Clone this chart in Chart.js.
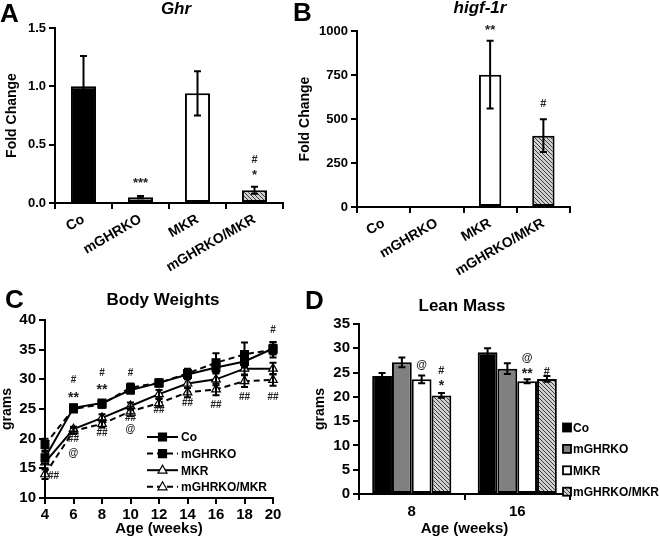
<!DOCTYPE html>
<html>
<head>
<meta charset="utf-8">
<script src="https://cdn.jsdelivr.net/npm/chart.js@4.4.1/dist/chart.umd.min.js"></script>
<style>
  body { margin: 0; background: #fff; }
  #fig { position: relative; width: 660px; height: 542px; overflow: hidden; font-family: 'Liberation Sans', Arial, sans-serif; }
  #fig canvas { position: absolute; }
  .lbl { position: absolute; font-weight: bold; line-height: 1; white-space: nowrap; color: #000; }
  .letter { font-size: 26px; }
  .ttl { font-size: 17px; width: 200px; text-align: center; }
</style>
</head>
<body>
<div id="fig">
  <canvas id="cA" width="330" height="285" style="left:0;top:0"></canvas>
  <canvas id="cB" width="367" height="285" style="left:293px;top:0"></canvas>
  <canvas id="cC" width="330" height="271" style="left:0;top:271px"></canvas>
  <canvas id="cD" width="360" height="271" style="left:300px;top:271px"></canvas>
  <div class="lbl letter" style="left:0;top:0">A</div>
  <div class="lbl letter" style="left:293px;top:-1px">B</div>
  <div class="lbl letter" style="left:5px;top:286px">C</div>
  <div class="lbl letter" style="left:305px;top:287px">D</div>
  <div class="lbl ttl" style="left:76px;top:0;font-style:italic">Ghr</div>
  <div class="lbl ttl" style="left:380px;top:-1px;font-style:italic">higf-1r</div>
  <div class="lbl ttl" style="left:63px;top:291px">Body Weights</div>
  <div class="lbl ttl" style="left:362px;top:297px">Lean Mass</div>
</div>
<script>
const genotypes = ['Co', 'mGHRKO', 'MKR', 'mGHRKO/MKR'];

// A - Ghr fold change
const ghrMean = [1.0, 0.05, 0.94, 0.11];
const ghrErr = [0.26, 0.01, 0.19, 0.03];
const ghrMarks = [[1, 0.19, '***'], [3, 0.26, '*'], [3, 0.37, '#']];

// B - higf-1r fold change
const igfMean = [2, 1, 752, 405];
const igfErr = [0, 0, 192, 93];
const igfMarks = [[2, 1020, '**'], [3, 585, '#']];

// C - body weights (grams) by age in weeks
const weeks = [4, 6, 8, 10, 12, 14, 16, 18, 20];
const bwCo = [16.8, 25.2, 26.0, 28.2, 29.4, 30.8, 32.0, 33.0, 35.2];
const bwCoErr = [1.0, 0.5, 0.5, 0.6, 0.5, 0.7, 0.8, 1.0, 1.0];
const bwGhrko = [19.0, 25.0, 25.8, 28.6, 29.4, 31.0, 32.8, 34.2, 35.0];
const bwGhrkoErr = [1.0, 0.5, 0.6, 0.7, 0.6, 0.8, 1.6, 2.0, 1.3];
const bwMkr = [16.0, 21.6, 23.5, 25.5, 27.5, 29.3, 30.0, 31.8, 31.8];
const bwMkrErr = [1.0, 0.4, 0.6, 0.6, 0.7, 0.7, 1.0, 1.0, 1.0];
const bwDouble = [14.0, 21.3, 22.5, 24.6, 26.0, 27.8, 28.3, 29.7, 29.9];
const bwDoubleErr = [0.8, 0.5, 0.6, 0.8, 0.7, 0.8, 1.0, 1.0, 1.0];
const bwMarks = [
  [6, 29.8, '#'], [6, 27.4, '**'], [8, 31.0, '#'], [8, 28.6, '**'], [10, 31.0, '#'], [20, 38.3, '#'],
  [4.6, 13.6, '##'], [6, 19.9, '##'], [6, 17.6, '@'], [8, 20.9, '##'], [10, 23.4, '##'], [10, 21.6, '@'],
  [12, 24.8, '##'], [14, 25.9, '##'], [16, 25.7, '##'], [18, 27.0, '##'], [20, 27.0, '##']
];

// D - lean mass (grams)
const ages = ['8', '16'];
const leanCo = [24.3, 29.2];
const leanCoErr = [0.6, 0.8];
const leanGhrko = [27.1, 25.8];
const leanGhrkoErr = [1.0, 1.1];
const leanMkr = [23.6, 23.2];
const leanMkrErr = [0.8, 0.4];
const leanDouble = [20.3, 23.7];
const leanDoubleErr = [0.5, 0.6];
// [age index, dataset index, value, text]
const leanMarks = [[0, 2, 26.5, '@'], [0, 3, 25.4, '#'], [0, 3, 22.9, '*'], [1, 2, 28.0, '@'], [1, 2, 25.3, '**'], [1, 3, 25.2, '#']];

const FONT = "'Liberation Sans', Arial, sans-serif";
Chart.defaults.font.family = FONT;
Chart.defaults.font.weight = 'bold';
Chart.defaults.color = '#000';
Chart.defaults.animation = false;

function hatch() {
  const c = document.createElement('canvas');
  c.width = 4; c.height = 4;
  const g = c.getContext('2d');
  g.fillStyle = '#cfcfcf';
  g.fillRect(0, 0, 4, 4);
  g.strokeStyle = '#3c3c3c';
  g.lineWidth = 1;
  g.beginPath();
  g.moveTo(-1, -1); g.lineTo(5, 5);
  g.moveTo(-1, 3); g.lineTo(1, 5);
  g.moveTo(3, -1); g.lineTo(5, 1);
  g.stroke();
  return g.createPattern(c, 'repeat');
}
const HATCH = hatch();
const FILLS = ['#000000', '#808080', '#ffffff', HATCH];

// error bars, read from dataset.errors
const errorBars = {
  id: 'errorBars',
  afterDatasetsDraw(chart) {
    const ctx = chart.ctx;
    ctx.save();
    ctx.strokeStyle = '#000';
    ctx.lineWidth = 2;
    chart.data.datasets.forEach((ds, i) => {
      if (!ds.errors) return;
      const meta = chart.getDatasetMeta(i);
      const ys = chart.scales[meta.yAxisID];
      meta.data.forEach((el, j) => {
        const e = ds.errors[j];
        if (!e) return;
        const d = ds.data[j];
        const v = typeof d === 'object' ? d.y : d;
        const t = ys.getPixelForValue(v + e), b = ys.getPixelForValue(v - e);
        const w = 3.5;
        ctx.beginPath();
        ctx.moveTo(el.x, t); ctx.lineTo(el.x, b);
        ctx.moveTo(el.x - w, t); ctx.lineTo(el.x + w, t);
        ctx.moveTo(el.x - w, b); ctx.lineTo(el.x + w, b);
        ctx.stroke();
      });
    });
    ctx.restore();
  }
};

// significance marks
const marks = {
  id: 'marks',
  afterDraw(chart, args, opts) {
    if (!opts.items) return;
    const ctx = chart.ctx;
    const ys = chart.scales.y, xs = chart.scales.x;
    ctx.save();
    ctx.fillStyle = '#222';
    ctx.textAlign = 'center';
    ctx.textBaseline = 'middle';
    opts.items.forEach(m => {
      let x, v, txt;
      if (m.length === 4) {
        x = chart.getDatasetMeta(m[1]).data[m[0]].x; v = m[2]; txt = m[3];
      } else {
        x = xs.getPixelForValue(m[0]); v = m[1]; txt = m[2];
      }
      const star = txt.indexOf('*') >= 0;
      ctx.font = 'bold ' + (star ? opts.starSize : opts.size) + 'px ' + FONT;
      ctx.fillText(txt, x, ys.getPixelForValue(v) + (star ? 3 : 0));
    });
    ctx.restore();
  }
};

function yAxis(width, size, extra) {
  return Object.assign({
    afterFit: s => { s.width = width; },
    border: { display: true, color: '#000', width: 2 },
    grid: { drawOnChartArea: false, drawTicks: true, tickLength: 6, color: '#000', lineWidth: 2 },
    ticks: { color: '#000', font: { size: size, weight: 'bold' }, padding: 3 }
  }, extra);
}

function xAxis(height, extra) {
  return Object.assign({
    afterFit: s => { s.height = height; },
    border: { display: true, color: '#000', width: 2 },
    grid: { drawOnChartArea: false, drawTicks: true, tickLength: 6, color: '#000', lineWidth: 2 }
  }, extra);
}

function foldChart(id, mean, err, marksList, opt) {
  new Chart(document.getElementById(id), {
    type: 'bar',
    data: {
      labels: genotypes,
      datasets: [{
        data: mean,
        errors: err,
        backgroundColor: FILLS,
        borderColor: '#000',
        borderWidth: 2,
        borderSkipped: false,
        barPercentage: opt.bar,
        categoryPercentage: 1
      }]
    },
    options: {
      responsive: false,
      devicePixelRatio: 1,
      layout: { padding: { left: 0, top: opt.top, right: opt.right, bottom: 0 } },
      plugins: {
        legend: { display: false },
        tooltip: { enabled: false },
        marks: { items: marksList, size: 11, starSize: 13 }
      },
      scales: {
        x: xAxis(opt.xh, {
          ticks: { color: '#000', font: { size: 14, weight: 'bold' }, minRotation: 30, maxRotation: 30, autoSkip: false, padding: 2 }
        }),
        y: yAxis(opt.yw, 13, {
          min: 0, max: opt.max,
          title: { display: true, text: 'Fold Change', color: '#000', font: { size: 14, weight: 'bold' } },
          ticks: { color: '#000', font: { size: 13, weight: 'bold' }, padding: 3, stepSize: opt.step, callback: opt.fmt }
        })
      }
    },
    plugins: [errorBars, marks]
  });
}

foldChart('cA', ghrMean, ghrErr, ghrMarks, {
  top: 28, right: 47, xh: 82, yw: 55, max: 1.5, step: 0.5, bar: 0.44, fmt: v => v.toFixed(1)
});
foldChart('cB', igfMean, igfErr, igfMarks, {
  top: 31, right: 90, xh: 78, yw: 64, max: 1000, step: 250, bar: 0.42, fmt: v => v
});

// C legend: line sample + marker + label
const lineLegend = {
  id: 'lineLegend',
  afterDraw(chart) {
    const ctx = chart.ctx, a = chart.chartArea;
    ctx.save();
    chart.data.datasets.forEach((ds, i) => {
      const y = a.bottom - 61 + i * 16.6;
      const x0 = a.left + 102, x1 = a.left + 133;
      ctx.strokeStyle = '#000';
      ctx.lineWidth = 2;
      ctx.setLineDash(ds.borderDash || []);
      ctx.beginPath(); ctx.moveTo(x0, y); ctx.lineTo(x1, y); ctx.stroke();
      ctx.setLineDash([]);
      const cx = (x0 + x1) / 2;
      ctx.fillStyle = ds.pointBackgroundColor;
      ctx.lineWidth = 1.2;
      ctx.beginPath();
      if (ds.pointStyle === 'rect') {
        ctx.rect(cx - 4, y - 4, 8, 8);
      } else {
        ctx.moveTo(cx, y - 5); ctx.lineTo(cx - 4.5, y + 3); ctx.lineTo(cx + 4.5, y + 3); ctx.closePath();
      }
      ctx.fill(); ctx.stroke();
      ctx.fillStyle = '#000';
      ctx.font = 'bold 12px ' + FONT;
      ctx.textAlign = 'left';
      ctx.textBaseline = 'middle';
      ctx.fillText(ds.label, x1 + 3, y + 1);
    });
    ctx.restore();
  }
};

function bwSet(label, vals, errs, dashed, tri) {
  return {
    label: label,
    data: weeks.map((w, i) => ({ x: w, y: vals[i] })),
    errors: errs,
    borderColor: '#000',
    borderWidth: 2,
    borderDash: dashed ? [6, 4] : [],
    pointStyle: tri ? 'triangle' : 'rect',
    pointRadius: tri ? 5 : 5.5,
    pointBackgroundColor: tri ? '#fff' : '#000',
    pointBorderColor: '#000',
    pointBorderWidth: 1.2,
    fill: false,
    tension: 0
  };
}

new Chart(document.getElementById('cC'), {
  type: 'line',
  data: {
    datasets: [
      bwSet('Co', bwCo, bwCoErr, false, false),
      bwSet('mGHRKO', bwGhrko, bwGhrkoErr, true, false),
      bwSet('MKR', bwMkr, bwMkrErr, false, true),
      bwSet('mGHRKO/MKR', bwDouble, bwDoubleErr, true, true)
    ]
  },
  options: {
    responsive: false,
    devicePixelRatio: 1,
    clip: false,
    layout: { padding: { left: 0, top: 49, right: 57, bottom: 0 } },
    plugins: {
      legend: { display: false },
      tooltip: { enabled: false },
      marks: { items: bwMarks, size: 10, starSize: 14 }
    },
    scales: {
      x: xAxis(44, {
        type: 'linear', min: 4, max: 20,
        ticks: { color: '#000', font: { size: 15, weight: 'bold' }, stepSize: 2, padding: 2, maxRotation: 0 },
        title: { display: true, text: 'Age (weeks)', color: '#000', font: { size: 15, weight: 'bold' }, padding: { top: 0, bottom: 4 } }
      }),
      y: yAxis(45, 15, {
        min: 10, max: 40,
        ticks: { color: '#000', font: { size: 15, weight: 'bold' }, stepSize: 5, padding: 3 },
        title: { display: true, text: 'grams', color: '#000', font: { size: 14, weight: 'bold', lineHeight: 1 }, padding: { top: 0, bottom: 0 } }
      })
    }
  },
  plugins: [errorBars, marks, lineLegend]
});

// D legend: boxes at lower right
const boxLegend = {
  id: 'boxLegend',
  afterDraw(chart) {
    const ctx = chart.ctx, a = chart.chartArea;
    ctx.save();
    chart.data.datasets.forEach((ds, i) => {
      const y = a.bottom - 66.5 + i * 21.4;
      const x = a.right - 7;
      ctx.fillStyle = ds.backgroundColor;
      ctx.strokeStyle = '#000';
      ctx.lineWidth = 1.8;
      ctx.fillRect(x, y - 4, 8, 8);
      ctx.strokeRect(x, y - 4, 8, 8);
      ctx.fillStyle = '#000';
      ctx.font = 'bold 12px ' + FONT;
      ctx.textAlign = 'left';
      ctx.textBaseline = 'middle';
      ctx.fillText(ds.label, x + 10, y + 1);
    });
    ctx.restore();
  }
};

function leanSet(label, vals, errs, fill) {
  return {
    label: label,
    data: vals,
    errors: errs,
    backgroundColor: fill,
    borderColor: '#000',
    borderWidth: 2,
    borderSkipped: false,
    barPercentage: 1,
    categoryPercentage: 0.75
  };
}

new Chart(document.getElementById('cD'), {
  type: 'bar',
  data: {
    labels: ages,
    datasets: [
      leanSet('Co', leanCo, leanCoErr, FILLS[0]),
      leanSet('mGHRKO', leanGhrko, leanGhrkoErr, FILLS[1]),
      leanSet('MKR', leanMkr, leanMkrErr, FILLS[2]),
      leanSet('mGHRKO/MKR', leanDouble, leanDoubleErr, FILLS[3])
    ]
  },
  options: {
    responsive: false,
    devicePixelRatio: 1,
    layout: { padding: { left: 8, top: 53, right: 90, bottom: 0 } },
    plugins: {
      legend: { display: false },
      tooltip: { enabled: false },
      marks: { items: leanMarks, size: 11, starSize: 14 }
    },
    scales: {
      x: xAxis(48, {
        ticks: { color: '#000', font: { size: 15, weight: 'bold' }, padding: 3, maxRotation: 0 },
        title: { display: true, text: 'Age (weeks)', color: '#000', font: { size: 15, weight: 'bold' }, padding: { top: 0, bottom: 4 } }
      }),
      y: yAxis(51, 15, {
        min: 0, max: 35,
        ticks: { color: '#000', font: { size: 15, weight: 'bold' }, stepSize: 5, padding: 3 },
        title: { display: true, text: 'grams', color: '#000', font: { size: 14, weight: 'bold' } }
      })
    }
  },
  plugins: [errorBars, marks, boxLegend]
});
</script>
</body>
</html>
